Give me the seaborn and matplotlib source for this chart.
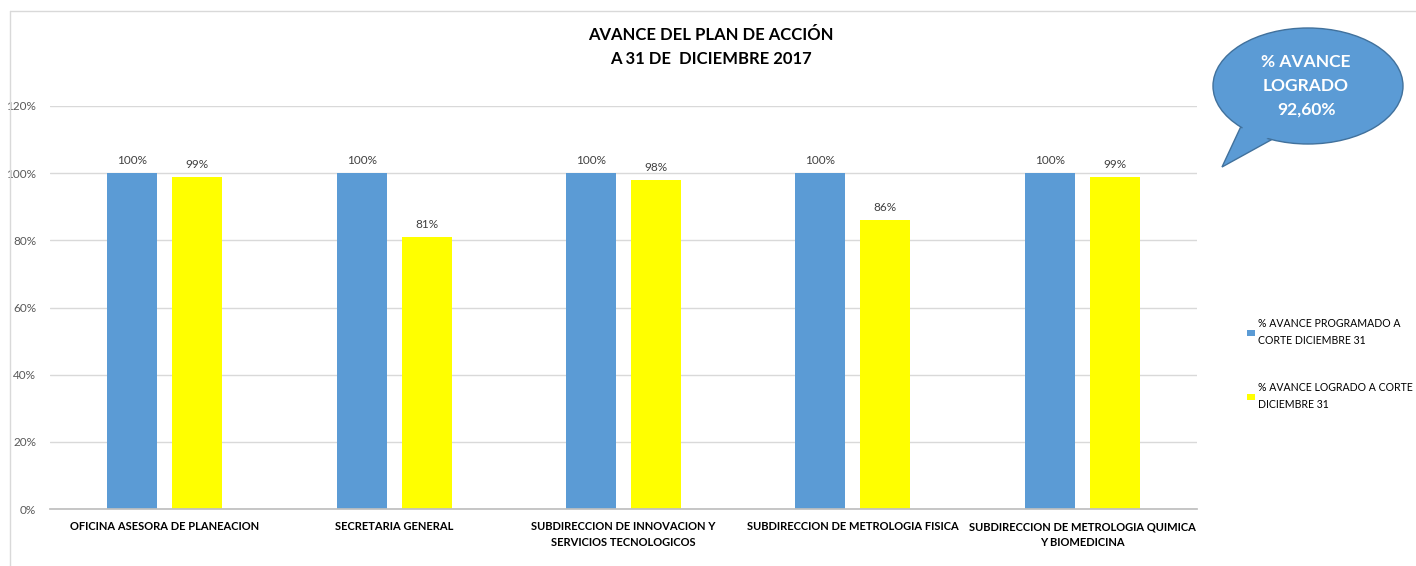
import matplotlib
matplotlib.use("Agg")
import matplotlib.pyplot as plt
import seaborn as sns
import pandas as pd
from matplotlib.patches import Ellipse, Polygon
from matplotlib.lines import Line2D
from matplotlib.ticker import FixedLocator, PercentFormatter

categories = [
    "OFICINA ASESORA DE PLANEACION",
    "SECRETARIA GENERAL",
    "SUBDIRECCION DE INNOVACION Y\nSERVICIOS TECNOLOGICOS",
    "SUBDIRECCION DE METROLOGIA FISICA",
    "SUBDIRECCION DE METROLOGIA QUIMICA\nY BIOMEDICINA",
]
series_names = [
    "% AVANCE PROGRAMADO A\nCORTE DICIEMBRE 31",
    "% AVANCE LOGRADO A CORTE\nDICIEMBRE 31",
]
programado = [1.00, 1.00, 1.00, 1.00, 1.00]
logrado = [0.99, 0.81, 0.98, 0.86, 0.99]
colors = ["#5B9BD5", "#FFFF00"]
title = "AVANCE DEL PLAN DE ACCIÓN\nA 31 DE  DICIEMBRE 2017"
bubble_text = "% AVANCE\nLOGRADO\n92,60%"

df = pd.DataFrame({
    "cat": categories * 2,
    "serie": [series_names[0]] * 5 + [series_names[1]] * 5,
    "valor": programado + logrado,
})

sns.set_theme(style="white")
plt.rcParams["font.family"] = ["Lato", "DejaVu Sans"]

fig = plt.figure(figsize=(14.16, 5.66), dpi=100)
ax = fig.add_axes([50 / 1416, 1 - 509 / 566, (1197 - 50) / 1416, (509 - 106) / 566])

sns.barplot(data=df, x="cat", y="valor", hue="serie", palette=colors,
            width=0.567, gap=0.23, ax=ax, errorbar=None, saturation=1,
            linewidth=0, legend=True)

ax.set_ylim(0, 1.2)
ax.set_xlim(-0.5, 4.5)
ax.set_yticks([0, 0.2, 0.4, 0.6, 0.8, 1.0, 1.2])
ax.yaxis.set_major_formatter(PercentFormatter(1.0, decimals=0))
ax.yaxis.grid(True, color="#D9D9D9", linewidth=1)
ax.set_axisbelow(True)
for s in ["top", "right", "left"]:
    ax.spines[s].set_visible(False)
ax.spines["bottom"].set_color("#BFBFBF")
ax.set_xlabel("")
ax.set_ylabel("")
ax.tick_params(axis="y", length=0, labelsize=8.5, labelcolor="#595959", pad=10)
ax.tick_params(axis="x", which="major", length=0, labelsize=8, labelcolor="black", pad=9)
for lab in ax.get_xticklabels():
    lab.set_fontweight("bold")
    lab.set_multialignment("center")
    lab.set_linespacing(1.5)
ax.xaxis.set_minor_locator(FixedLocator([-0.5, 0.5, 1.5, 2.5, 3.5, 4.5]))
ax.tick_params(axis="x", which="minor", length=5, color="#BFBFBF", direction="out")

for cont in ax.containers:
    ax.bar_label(cont, labels=[f"{v*100:.0f}%" for v in cont.datavalues],
                 padding=5, fontsize=8.5, color="#404040")

handles, labels = ax.get_legend_handles_labels()
leg = ax.legend(handles, labels, loc="center left", bbox_to_anchor=(1247 / 1416, 1 - 364 / 566),
                bbox_transform=fig.transFigure, frameon=False, labelspacing=3.4,
                handlelength=0.75, handleheight=0.5, handletextpad=0.25, fontsize=7.6,
                borderaxespad=0, borderpad=0)
for t in leg.get_texts():
    t.set_linespacing(1.65)
    t.set_color("black")

fig.text(711 / 1416, 1 - 47 / 566, title, ha="center", va="center",
         fontsize=12, fontweight="bold", linespacing=1.55, color="black")

# speech bubble
tail = Polygon([(1243 / 1416, 1 - 122 / 566), (1222 / 1416, 1 - 167 / 566), (1280 / 1416, 1 - 135 / 566)],
               closed=True, transform=fig.transFigure, facecolor="#5B9BD5", edgecolor="#41719C", lw=1)
fig.patches.append(tail)
ell = Ellipse((1308 / 1416, 1 - 86 / 566), 190 / 1416, 116 / 566, transform=fig.transFigure,
              facecolor="#5B9BD5", edgecolor="#41719C", lw=1)
fig.patches.append(ell)
tail2 = Polygon([(1246 / 1416, 1 - 121 / 566), (1224 / 1416, 1 - 165 / 566), (1276 / 1416, 1 - 133 / 566)],
                closed=True, transform=fig.transFigure, facecolor="#5B9BD5", edgecolor="none")
fig.patches.append(tail2)
fig.text(1306 / 1416, 1 - 86 / 566, bubble_text, ha="center", va="center", color="white",
         fontsize=12.5, fontweight="bold", linespacing=1.6)

# outer chart frame lines
fig.add_artist(Line2D([10 / 1416, 1], [1 - 11 / 566, 1 - 11 / 566], transform=fig.transFigure,
                      color="#D9D9D9", lw=1))
fig.add_artist(Line2D([10 / 1416, 10 / 1416], [1 - 11 / 566, 0], transform=fig.transFigure,
                      color="#D9D9D9", lw=1))

fig.savefig("out.png", dpi=100)
